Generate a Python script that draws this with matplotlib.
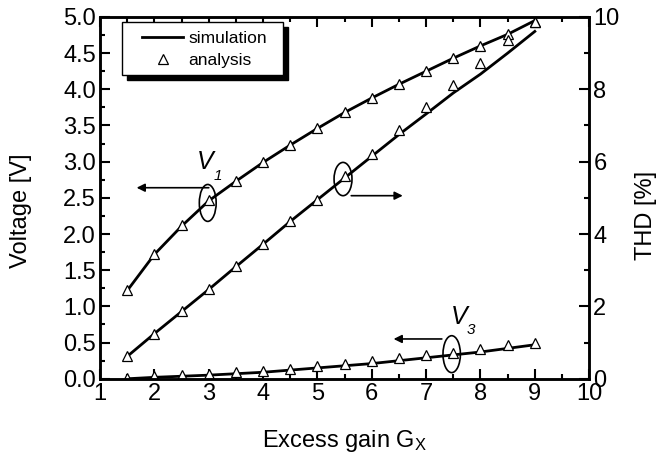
import matplotlib
matplotlib.use('Agg')
import matplotlib.pyplot as plt
from matplotlib.patches import Ellipse, Rectangle
from matplotlib.ticker import MultipleLocator, FormatStrFormatter

plt.rcParams['font.family'] = ['Liberation Sans', 'DejaVu Sans']
plt.rcParams['mathtext.fontset'] = 'custom'
plt.rcParams['mathtext.rm'] = 'Liberation Sans'
plt.rcParams['mathtext.it'] = 'Liberation Sans:italic'

gain = [1.5, 2, 2.5, 3, 3.5, 4, 4.5, 5, 5.5, 6, 6.5, 7, 7.5, 8, 8.5, 9]

# analysis points
v1_ana = [1.23, 1.73, 2.12, 2.47, 2.73, 3.0, 3.23, 3.46, 3.68, 3.88, 4.07, 4.25, 4.43, 4.60, 4.77, 4.93]
v3_ana = [0.01, 0.04, 0.055, 0.065, 0.087, 0.11, 0.14, 0.18, 0.2, 0.24, 0.29, 0.33, 0.36, 0.41, 0.46, 0.50]
thd_ana = [0.63, 1.25, 1.86, 2.48, 3.11, 3.73, 4.36, 4.95, 5.6, 6.2, 6.87, 7.5, 8.12, 8.73, 9.36, 9.85]

# simulation curves
v1_sim = [1.22, 1.72, 2.11, 2.46, 2.73, 2.99, 3.23, 3.46, 3.68, 3.88, 4.07, 4.25, 4.43, 4.60, 4.76, 4.95]
v3_sim = [0.0, 0.02, 0.035, 0.05, 0.07, 0.09, 0.12, 0.15, 0.18, 0.21, 0.25, 0.29, 0.33, 0.37, 0.42, 0.47]
thd_sim = [0.62, 1.25, 1.86, 2.47, 3.1, 3.72, 4.35, 4.95, 5.55, 6.15, 6.75, 7.32, 7.9, 8.42, 9.0, 9.6]

fig = plt.figure(figsize=(6.59, 4.58), dpi=100)
ax = fig.add_axes([0.152, 0.173, 0.742, 0.790])
ax2 = ax.twinx()

lw = 2.0
mk = dict(marker='^', ms=7.5, mfc='white', mec='black', mew=0.9, ls='none')

ax.plot(gain, v1_sim, color='black', lw=lw, label='simulation')
ax.plot(gain, v3_sim, color='black', lw=lw)
ax.plot(gain, v1_ana, label='analysis', **mk)
ax.plot(gain, v3_ana, **mk)
ax2.plot(gain, thd_sim, color='black', lw=lw)
ax2.plot(gain, thd_ana, **mk)

ax.set_xlim(1, 10)
ax.set_ylim(0, 5)
ax2.set_ylim(0, 10)

ax.xaxis.set_major_locator(MultipleLocator(1))
ax.xaxis.set_minor_locator(MultipleLocator(0.5))
ax.yaxis.set_major_locator(MultipleLocator(0.5))
ax.yaxis.set_minor_locator(MultipleLocator(0.25))
ax.yaxis.set_major_formatter(FormatStrFormatter('%.1f'))
ax2.yaxis.set_major_locator(MultipleLocator(2))
ax2.yaxis.set_minor_locator(MultipleLocator(1))

fs = 17
ax.tick_params(which='both', direction='in', top=True, right=False, width=1.5, labelsize=fs)
ax.tick_params(which='major', length=7, pad=3)
ax.tick_params(which='minor', length=3.5)
ax2.tick_params(which='both', direction='in', width=1.5, labelsize=fs)
ax2.tick_params(which='major', length=7, pad=3)
ax2.tick_params(which='minor', length=3.5)
for a in (ax, ax2):
    for s in a.spines.values():
        s.set_linewidth(1.8)

ax.set_xlabel('Excess gain G$_\\mathrm{X}$', fontsize=fs)
ax.set_ylabel('Voltage [V]', fontsize=fs)
ax2.set_ylabel('THD [%]', fontsize=fs)
ax.xaxis.set_label_coords(0.5, -0.135)
ax.yaxis.set_label_coords(-0.139, 0.465)
ax2.yaxis.set_label_coords(1.094, 0.452)

# ellipses marking each curve, with arrows towards its axis
for cx, cy, w, h in [(2.98, 2.43, 0.31, 0.51), (5.47, 2.76, 0.33, 0.46), (7.47, 0.34, 0.32, 0.51)]:
    ax.add_patch(Ellipse((cx, cy), w, h, fill=False, ec='black', lw=1.2))

arrow = dict(arrowstyle='-|>', color='black', lw=1.2, mutation_scale=12)
ax.annotate('', xy=(1.62, 2.64), xytext=(3.05, 2.64), arrowprops=arrow)
ax.annotate('', xy=(6.62, 2.53), xytext=(5.57, 2.53), arrowprops=arrow)
ax.annotate('', xy=(6.35, 0.55), xytext=(7.34, 0.55), arrowprops=arrow)

ax.text(2.94, 3.0, 'V', fontsize=18, style='italic', ha='center', va='center')
ax.text(3.17, 2.8, '1', fontsize=11, style='italic', ha='center', va='center')
ax.text(7.6, 0.86, 'V', fontsize=18, style='italic', ha='center', va='center')
ax.text(7.83, 0.67, '3', fontsize=11, style='italic', ha='center', va='center')

# legend box with a solid drop shadow
box_x, box_y, box_w, box_h = 0.045, 0.839, 0.329, 0.147
ax.add_patch(Rectangle((box_x + 0.0105, box_y - 0.014), box_w, box_h, transform=ax.transAxes,
                       fc='black', ec='black', lw=1.0, zorder=5))
ax.add_patch(Rectangle((box_x, box_y), box_w, box_h, transform=ax.transAxes,
                       fc='white', ec='black', lw=1.0, zorder=6))
leg = ax.legend(loc='upper left', bbox_to_anchor=(0.086, 0.962), fontsize=12.5,
                frameon=False, handlelength=2.36, borderpad=0, borderaxespad=0,
                labelspacing=0.42, handletextpad=0.3)
leg.set_zorder(7)

fig.savefig('out.png', dpi=100)
